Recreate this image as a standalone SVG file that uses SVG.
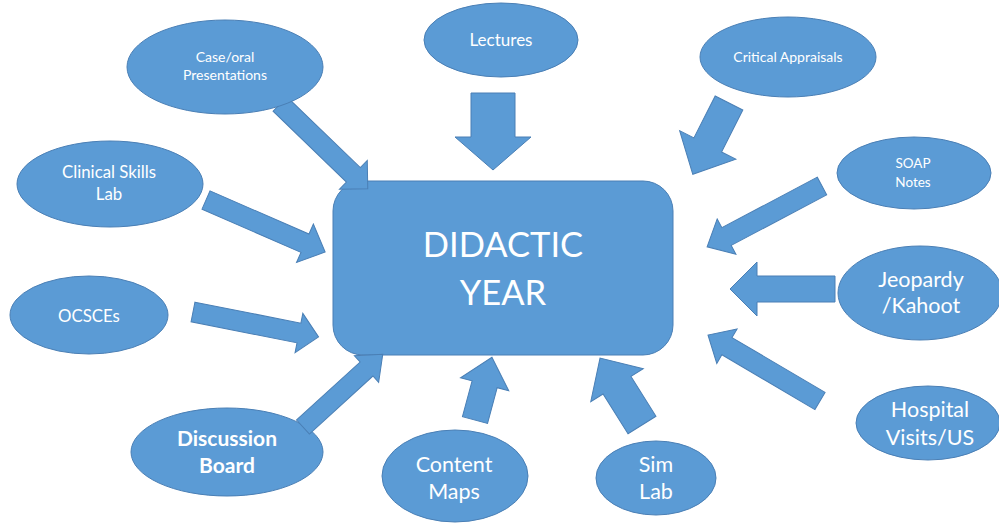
<svg xmlns="http://www.w3.org/2000/svg" width="999" height="525" viewBox="0 0 999 525">
<style>
.sh{fill:#5b9bd5;stroke:#4a7fb5;stroke-width:1}
.ar{fill:#5b9bd5;stroke:#4a7fb5;stroke-width:1;stroke-linejoin:miter}
text{font-family:Lato,"Liberation Sans",sans-serif;fill:#ffffff;text-anchor:middle}
.s13{font-size:13.5px}
.s14{font-size:14px}
.s16{font-size:16.8px}
.s17{font-size:17px}
.s21{font-size:21.5px}
.b{font-weight:bold;font-size:21px}
.big{font-size:34.5px}
</style>
<rect width="999" height="525" fill="#ffffff"/>
<g id="didactic">
<rect class="sh" x="333" y="181" width="340" height="174" rx="30" ry="30"/>
<text class="big" x="503" y="257">DIDACTIC</text>
<text class="big" x="503" y="305">YEAR</text>
</g>
<g id="discussion">
<ellipse class="sh" cx="227" cy="452" rx="96" ry="44"/>
<text class="b" x="227" y="446">Discussion</text>
<text class="b" x="227" y="473">Board</text>
</g>
<g id="connectors">
<polygon class="ar" transform="translate(280,104) rotate(44)" points="0,-10 102,-10 102,-20 122,0 102,20 102,10 0,10"/>
<polygon class="ar" transform="translate(493,93) rotate(90)" points="0,-22 44,-22 44,-38 77,0 44,38 44,22 0,22"/>
<polygon class="ar" transform="translate(729,103) rotate(116.9)" points="0,-15.5 47,-15.5 47,-31.5 80,0 47,31.5 47,15.5 0,15.5"/>
<polygon class="ar" transform="translate(206,200) rotate(23.6)" points="0,-10 108,-10 108,-21 130,0 108,21 108,10 0,10"/>
<polygon class="ar" transform="translate(193,312) rotate(11.2)" points="0,-10 108,-10 108,-20 128,0 108,20 108,10 0,10"/>
<polygon class="ar" transform="translate(822,186) rotate(152.1)" points="0,-10 108,-10 108,-20 130,0 108,20 108,10 0,10"/>
<polygon class="ar" transform="translate(835,289) rotate(180)" points="0,-13 78,-13 78,-27 105,0 78,27 78,13 0,13"/>
<polygon class="ar" transform="translate(820,401) rotate(-149.5)" points="0,-10 108,-10 108,-20 130,0 108,20 108,10 0,10"/>
<polygon class="ar" transform="translate(303,427) rotate(-42.4)" points="0,-9.5 86,-9.5 86,-18 108,0 86,18 86,9.5 0,9.5"/>
<polygon class="ar" transform="translate(475,420) rotate(-74.9)" points="0,-13 37,-13 37,-25 65,0 37,25 37,13 0,13"/>
<polygon class="ar" transform="translate(642,425) rotate(-122.1)" points="0,-16.5 47,-16.5 47,-31 79,0 47,31 47,16.5 0,16.5"/>
</g>
<g id="case">
<ellipse class="sh" cx="225" cy="67" rx="98" ry="47"/>
<text class="s14" x="225" y="62">Case/oral</text>
<text class="s14" x="225" y="80">Presentations</text>
</g>
<g id="lectures">
<ellipse class="sh" cx="501" cy="40" rx="77" ry="37"/>
<text class="s17" x="501" y="46">Lectures</text>
</g>
<g id="critical">
<ellipse class="sh" cx="788" cy="57" rx="88" ry="40"/>
<text class="s14" x="788" y="62">Critical Appraisals</text>
</g>
<g id="clinical">
<ellipse class="sh" cx="110" cy="184" rx="93" ry="43"/>
<text class="s16" x="109" y="178">Clinical Skills</text>
<text class="s16" x="109" y="200">Lab</text>
</g>
<g id="ocsces">
<ellipse class="sh" cx="89" cy="315" rx="79" ry="39"/>
<text class="s16" x="89" y="322">OCSCEs</text>
</g>
<g id="soap">
<ellipse class="sh" cx="914" cy="173" rx="77" ry="36"/>
<text class="s13" x="913" y="168">SOAP</text>
<text class="s13" x="913" y="187">Notes</text>
</g>
<g id="jeopardy">
<ellipse class="sh" cx="920" cy="293" rx="82" ry="47"/>
<text class="s21" x="921" y="287">Jeopardy</text>
<text class="s21" x="921" y="313">/Kahoot</text>
</g>
<g id="hospital">
<ellipse class="sh" cx="928" cy="423" rx="72" ry="37"/>
<text class="s21" x="930" y="417">Hospital</text>
<text class="s21" x="930" y="445">Visits/US</text>
</g>
<g id="content">
<ellipse class="sh" cx="455" cy="476" rx="73" ry="46"/>
<text class="s21" x="454" y="472">Content</text>
<text class="s21" x="454" y="499">Maps</text>
</g>
<g id="sim">
<ellipse class="sh" cx="656" cy="478" rx="60" ry="37"/>
<text class="s21" x="656" y="472">Sim</text>
<text class="s21" x="656" y="499">Lab</text>
</g>
</svg>
